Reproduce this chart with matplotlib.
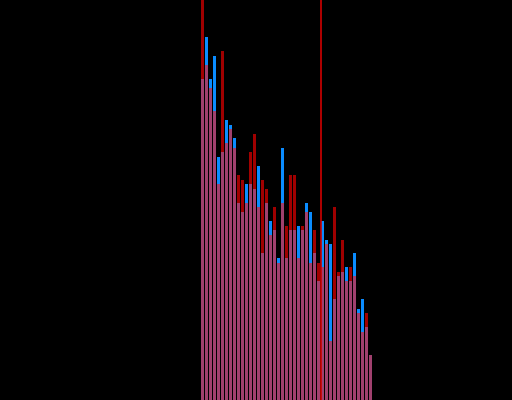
import numpy as np
import matplotlib
matplotlib.use("Agg")
import matplotlib.pyplot as plt

# bar heights (0..100 scale)
red_vals = [104, 83.75, 78, 72.25, 54, 87.25, 64.25, 67.75, 63, 56.25,
            55, 49.25, 62, 66.5, 48.25, 55, 52.75, 41.25, 48.25, 34.25,
            49.25, 43.5, 56.25, 56.25, 35.5, 43.5, 47, 34.25, 42.5, 34.25,
            33.25, 39, 14.75, 48.25, 32, 40, 29.75, 33.25, 31, 21.75,
            17, 21.75, 11.25]
blue_vals = [80.25, 90.75, 80.25, 86, 60.75, 62, 70, 68.75, 65.5, 49.25,
             47, 54, 54, 52.75, 58.5, 36.75, 49.25, 44.75, 42.5, 35.5,
             63, 35.5, 42.5, 42.5, 43.5, 42.5, 49.25, 47, 36.75, 29.75,
             44.75, 40, 39, 25.25, 31, 32, 33.25, 29.75, 36.75, 22.75,
             25.25, 18.25, 11.25]
marker_x = 29.875

red = np.array(red_vals)
blue = np.array(blue_vals)
both = np.minimum(red, blue)
x = np.arange(len(red))

fig = plt.figure(figsize=(5.12, 4.0), dpi=100, facecolor="black")
ax = fig.add_axes([0, 0, 1, 1], facecolor="black")

ax.bar(x, blue, width=0.75, align="edge", color="#0a8cff", linewidth=0)
ax.bar(x, red, width=0.75, align="edge", color="#a00000", linewidth=0)
ax.bar(x, both, width=0.75, align="edge", color="#a0406e", linewidth=0)
ax.axvline(marker_x, color="#d00000", linewidth=1.2)

ax.set_xlim(-50.25, 77.75)
ax.set_ylim(0, 100)
ax.axis("off")

fig.savefig("out.png", dpi=100, facecolor="black")
